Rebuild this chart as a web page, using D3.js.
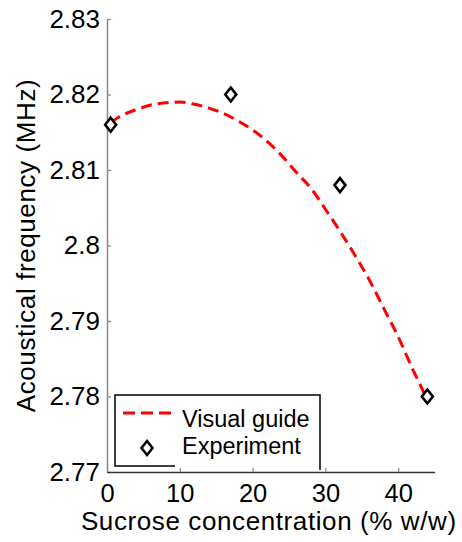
<!DOCTYPE html>
<html>
<head>
<meta charset="utf-8">
<script src="https://cdn.jsdelivr.net/npm/d3@7"></script>
<style>
  body { margin: 0; background: #fff; }
  text { font-family: "Liberation Sans", Arial, sans-serif; }
</style>
</head>
<body>
<div id="chart"></div>
<script>
const width = 462,
  height = 542;

/* Datos */
const xTicks = [0, 10, 20, 30, 40];
const yTicks = [2.77, 2.78, 2.79, 2.8, 2.81, 2.82, 2.83];

const expX = [0.5, 17, 32, 44];
const expY = [2.816, 2.82, 2.808, 2.78];

// curva "Visual guide"
const guideX = [0.5, 2, 4, 6, 8, 10, 12, 14, 16, 18, 20, 22, 24, 26, 28, 30, 32, 34, 36, 38, 40, 42, 43.8];
const guideY = [2.8163, 2.8172, 2.818, 2.8186, 2.8189, 2.819, 2.8187, 2.8182, 2.8175, 2.8165, 2.8153, 2.8138, 2.8119, 2.8097, 2.8076, 2.8048, 2.8019, 2.7988, 2.7955, 2.7917, 2.7879, 2.7836, 2.78];

const legendLabels = ["Visual guide", "Experiment"];

const svg = d3.select("#chart").append("svg").attr("width", width).attr("height", height);

const x = d3.scaleLinear().domain([0, 45]).range([107, 434.6]);
const y = d3.scaleLinear().domain([2.77, 2.83]).range([472, 19]);

// Eje Y
const yAxis = svg
  .append("g")
  .attr("transform", `translate(${x(0)},0)`)
  .call(d3.axisLeft(y).tickValues(yTicks).tickSize(-4).tickSizeOuter(0).tickPadding(7).tickFormat((d) => String(+d.toFixed(2))));
yAxis.select(".domain").attr("stroke", "#888").attr("stroke-width", 1.5);
yAxis.selectAll(".tick line").attr("stroke", "#888").attr("stroke-width", 1.2);
yAxis.selectAll("text").attr("fill", "#000").style("font-size", "26px").style("font-family", "Liberation Sans, Arial, sans-serif");

// Eje X
const xAxis = svg
  .append("g")
  .attr("transform", `translate(0,${y(2.77)})`)
  .call(d3.axisBottom(x).tickValues(xTicks).tickSize(-4).tickSizeOuter(0).tickPadding(8));
xAxis.select(".domain").attr("stroke", "#333").attr("stroke-width", 1.5);
xAxis.selectAll(".tick line").attr("stroke", "#888").attr("stroke-width", 1.2);
xAxis.selectAll("text").attr("fill", "#000").attr("dy", null).attr("y", 30).style("font-size", "25.5px").style("font-family", "Liberation Sans, Arial, sans-serif");

// Titulos de ejes
svg
  .append("text")
  .attr("x", (x(0) + x(45)) / 2 - 2)
  .attr("y", 530)
  .attr("text-anchor", "middle")
  .style("font-size", "26px")
  .style("letter-spacing", "0.6px")
  .text("Sucrose concentration (% w/w)");

svg
  .append("text")
  .attr("transform", `translate(35,${(y(2.77) + y(2.83)) / 2}) rotate(-90)`)
  .attr("text-anchor", "middle")
  .style("font-size", "26px")
  .style("letter-spacing", "0.6px")
  .text("Acoustical frequency (MHz)");

// Curva guia
const guide = guideX.map((v, i) => [v, guideY[i]]);
svg
  .append("path")
  .datum(guide)
  .attr("fill", "none")
  .attr("stroke", "#ff0000")
  .attr("stroke-width", 3)
  .attr("stroke-dasharray", "11,6")
  .attr("d", d3.line().x((d) => x(d[0])).y((d) => y(d[1])).curve(d3.curveMonotoneX));

// Puntos experimentales
const diamond = "M0,-7L5.5,0L0,7L-5.5,0Z";
svg
  .selectAll(".exp")
  .data(expX.map((v, i) => [v, expY[i]]))
  .enter()
  .append("path")
  .attr("class", "exp")
  .attr("transform", (d) => `translate(${x(d[0])},${y(d[1])})`)
  .attr("d", diamond)
  .attr("fill", "#fff")
  .attr("stroke", "#000")
  .attr("stroke-width", 2.6);

// Leyenda
const lg = svg.append("g");
lg.append("path")
  .attr("d", "M175,466H115V395H320V470")
  .attr("fill", "none")
  .attr("stroke", "#000")
  .attr("stroke-width", 1.5);

lg.append("line")
  .attr("x1", 123)
  .attr("x2", 172)
  .attr("y1", 413)
  .attr("y2", 413)
  .attr("stroke", "#ff0000")
  .attr("stroke-width", 3)
  .attr("stroke-dasharray", "12,6");

lg.append("path")
  .attr("transform", "translate(147,448)")
  .attr("d", diamond)
  .attr("fill", "#fff")
  .attr("stroke", "#000")
  .attr("stroke-width", 2.6);

lg.selectAll(".lg-text")
  .data(legendLabels)
  .enter()
  .append("text")
  .attr("class", "lg-text")
  .attr("x", 182)
  .attr("y", (d, i) => 427 + i * 27)
  .style("font-size", "23.5px")
  .text((d) => d);
</script>
</body>
</html>
